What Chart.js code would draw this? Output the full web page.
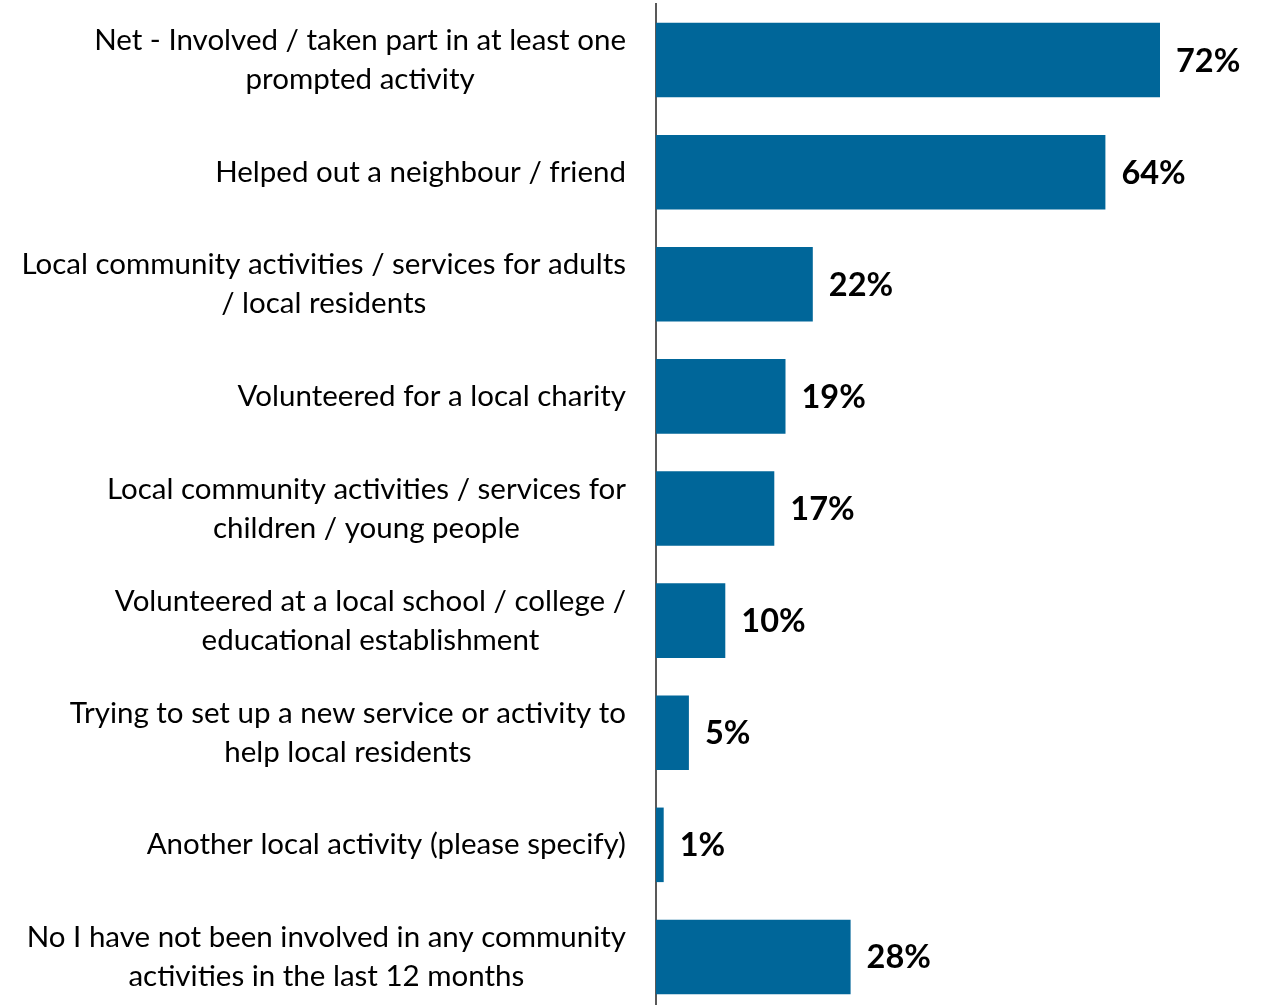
<!DOCTYPE html>
<html>
<head>
<meta charset="utf-8">
<script src="https://cdn.jsdelivr.net/npm/chart.js@4"></script>
<style>
html,body{margin:0;padding:0;background:#fff;overflow:hidden;}
#wrap{position:relative;width:1265px;height:1013px;}
</style>
</head>
<body>
<div id="wrap"><canvas id="c"></canvas></div>
<script>
const categories = [
  ["Net - Involved / taken part in at least one", "prompted activity"],
  ["Helped out a neighbour / friend"],
  ["Local community activities / services for adults", "/ local residents"],
  ["Volunteered for a local charity"],
  ["Local community activities / services for", "children / young people"],
  ["Volunteered at a local school / college /", "educational establishment"],
  ["Trying to set up a new service or activity to", "help local residents"],
  ["Another local activity (please specify)"],
  ["No I have not been involved in any community", "activities in the last 12 months"]
];
const values = [72, 64.2, 22.4, 18.5, 16.9, 9.9, 4.7, 1.1, 27.8];
const valueLabels = ["72%", "64%", "22%", "19%", "17%", "10%", "5%", "1%", "28%"];

const LABEL_FONT = '29.5px Lato';
const VALUE_FONT = 'bold 32.5px Lato';

const labelPlugin = {
  id: 'customLabels',
  afterDatasetsDraw(chart) {
    const ctx = chart.ctx;
    const yScale = chart.scales.y;
    const area = chart.chartArea;
    ctx.save();
    ctx.font = LABEL_FONT;
    ctx.fillStyle = '#000';
    ctx.textAlign = 'center';
    ctx.textBaseline = 'middle';
    const lh = 39;
    const rightEdge = area.left - 30;
    categories.forEach((lines, i) => {
      const y = yScale.getPixelForTick(i);
      let w = 0;
      lines.forEach(l => { w = Math.max(w, ctx.measureText(l).width); });
      const cx = rightEdge - w / 2;
      const y0 = y - (lines.length - 1) * lh / 2;
      lines.forEach((l, k) => ctx.fillText(l, cx, y0 + k * lh));
    });
    ctx.font = VALUE_FONT;
    ctx.textAlign = 'left';
    const meta = chart.getDatasetMeta(0);
    meta.data.forEach((bar, i) => {
      ctx.fillText(valueLabels[i], bar.x + 16, bar.y + 1);
    });
    ctx.restore();
  }
};

new Chart(document.getElementById('c'), {
  type: 'bar',
  data: {
    labels: categories,
    datasets: [{
      data: values,
      backgroundColor: '#006699',
      borderWidth: 0,
      categoryPercentage: 1,
      barPercentage: 0.665
    }]
  },
  options: {
    indexAxis: 'y',
    responsive: true,
    maintainAspectRatio: false,
    animation: false,
    layout: { padding: { top: 4, right: 0, bottom: 0, left: 0 } },
    plugins: { legend: { display: false }, tooltip: { enabled: false } },
    scales: {
      x: { display: false, min: 0, max: 87 },
      y: {
        ticks: { display: false },
        grid: { display: false },
        border: { display: true, color: '#595959', width: 2 },
        afterFit(scale) { scale.width = 656; }
      }
    }
  },
  plugins: [labelPlugin]
});
</script>
</body>
</html>
